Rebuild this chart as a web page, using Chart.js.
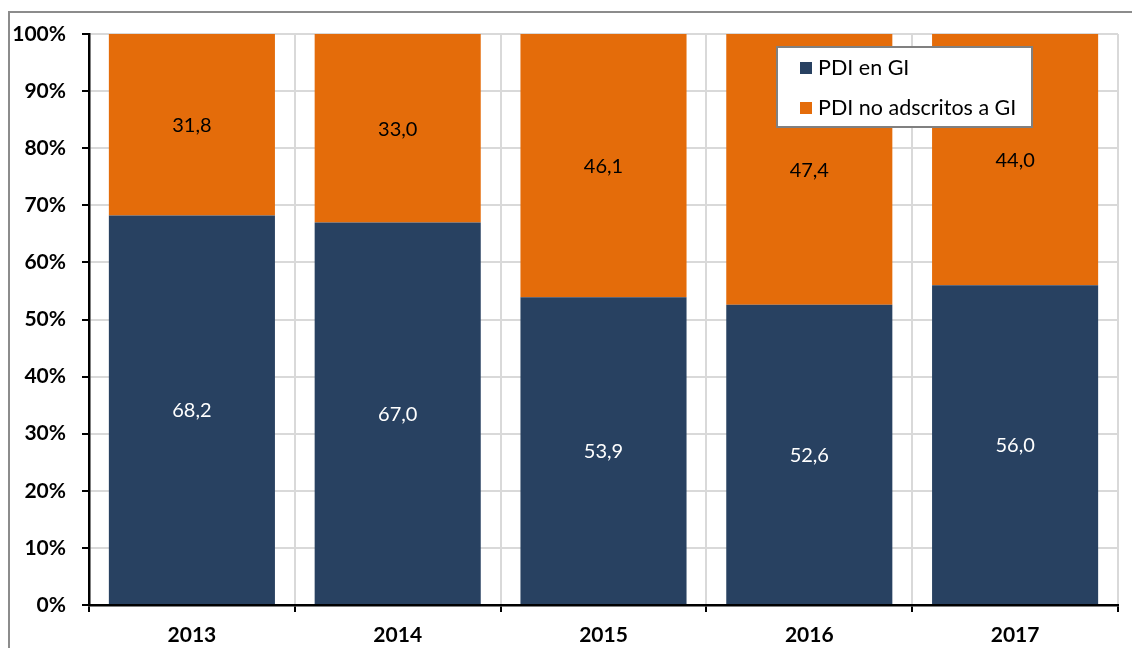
<!DOCTYPE html>
<html>
<head>
<meta charset="utf-8">
<script src="https://cdn.jsdelivr.net/npm/chart.js@4/dist/chart.umd.min.js"></script>
<style>
  html, body { margin: 0; padding: 0; background: #fff; overflow: hidden; }
  #wrap { position: relative; width: 1132px; height: 648px; }
  #frame { position: absolute; left: 8px; top: 11px; width: 1140px; height: 660px; border: 2px solid #8c8c8c; box-sizing: border-box; }
  canvas { position: absolute; left: 0; top: 0; }
</style>
</head>
<body>
<div id="wrap">
  <div id="frame"></div>
  <canvas id="chart" width="1132" height="648"></canvas>
</div>
<script>
var years = ['2013', '2014', '2015', '2016', '2017'];
var enGI = [68.2, 67.0, 53.9, 52.6, 56.0];
var noAdscritos = [31.8, 33.0, 46.1, 47.4, 44.0];
var seriesNames = ['PDI en GI', 'PDI no adscritos a GI'];
var colors = ['#284161', '#e46c0a'];
var labelColors = ['#ffffff', '#000000'];

var fmt = function (v) { return v.toFixed(1).replace('.', ','); };

var barLabels = {
  id: 'barLabels',
  afterDatasetsDraw: function (chart) {
    var ctx = chart.ctx;
    ctx.save();
    ctx.font = '20px Lato';
    ctx.textAlign = 'center';
    ctx.textBaseline = 'middle';
    chart.data.datasets.forEach(function (ds, i) {
      var meta = chart.getDatasetMeta(i);
      meta.data.forEach(function (bar, j) {
        ctx.fillStyle = labelColors[i];
        ctx.fillText(fmt(ds.data[j]), bar.x, (bar.y + bar.base) / 2 + 1);
      });
    });
    ctx.restore();
  }
};

var boxLegend = {
  id: 'boxLegend',
  afterDraw: function (chart) {
    var ctx = chart.ctx;
    var a = chart.chartArea;
    var x = a.left + 688, y = a.top + 13, w = 255, h = 80;
    ctx.save();
    ctx.fillStyle = '#fff';
    ctx.fillRect(x, y, w, h);
    ctx.strokeStyle = '#808080';
    ctx.lineWidth = 2;
    ctx.strokeRect(x, y, w, h);
    ctx.font = '21.5px Lato';
    ctx.textBaseline = 'middle';
    ctx.textAlign = 'left';
    seriesNames.forEach(function (name, i) {
      var cy = y + 21 + i * 40;
      ctx.fillStyle = colors[i];
      ctx.fillRect(x + 23, cy - 6, 12, 12);
      ctx.fillStyle = '#000';
      ctx.fillText(name, x + 41, cy);
    });
    ctx.restore();
  }
};

new Chart(document.getElementById('chart'), {
  type: 'bar',
  data: {
    labels: years,
    datasets: [
      { label: seriesNames[0], data: enGI, backgroundColor: colors[0], borderWidth: 0, categoryPercentage: 1, barPercentage: 0.807 },
      { label: seriesNames[1], data: noAdscritos, backgroundColor: colors[1], borderWidth: 0, categoryPercentage: 1, barPercentage: 0.807 }
    ]
  },
  options: {
    responsive: false,
    animation: false,
    layout: { padding: { left: 0, right: 14, top: 34, bottom: 0 } },
    plugins: {
      legend: { display: false },
      tooltip: { enabled: false }
    },
    scales: {
      x: {
        stacked: true,
        grid: { offset: true, color: '#d9d9d9', lineWidth: 2, tickColor: '#000', tickLength: 7 },
        border: { color: '#000', width: 2.5 },
        ticks: { color: '#000', font: { family: 'Lato', size: 21, weight: 'bold' }, padding: 11 },
        afterFit: function (s) { s.height = 43; }
      },
      y: {
        stacked: true,
        min: 0,
        max: 100,
        grid: { color: '#d9d9d9', lineWidth: 2, tickColor: '#000', tickLength: 7 },
        border: { color: '#000', width: 2.5 },
        ticks: {
          stepSize: 10,
          color: '#000',
          padding: 16,
          font: { family: 'Lato', size: 21, weight: 'bold' },
          callback: function (v) { return v + '%'; }
        },
        afterFit: function (s) { s.width = 89; }
      }
    }
  },
  plugins: [barLabels, boxLegend]
});
</script>
</body>
</html>
